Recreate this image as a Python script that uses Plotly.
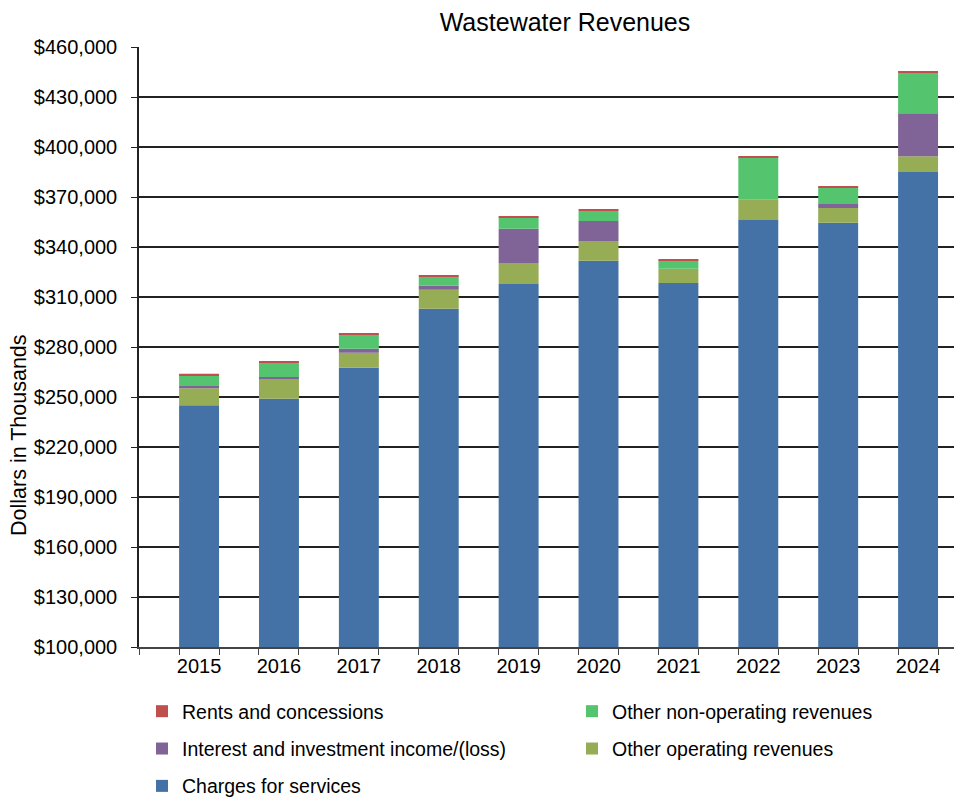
import plotly.graph_objects as go
import numpy as np

# data (dollars in thousands)
years = ["2015", "2016", "2017", "2018", "2019", "2020", "2021", "2022", "2023", "2024"]
charges_for_services = [245000, 249000, 267600, 303000, 317800, 331800, 318400, 356200, 354600, 385000]
other_operating = [10200, 11800, 9000, 11400, 12600, 11800, 8600, 12400, 8800, 9400]
interest_investment = [1400, 1200, 2400, 2400, 20600, 12000, 0, 0, 2400, 25800]
other_non_operating = [6400, 8600, 8600, 5400, 6800, 6000, 5000, 25200, 10000, 24400]
rents_concessions = [900, 700, 800, 800, 800, 700, 800, 800, 800, 800]

y_ticks = list(range(100000, 460001, 30000))
y_tick_text = ["${:,}".format(v) for v in y_ticks]

FONT = "Liberation Sans, Arial, sans-serif"
W, H = 962, 799
OFF = 8  # page body margin shifts the figure by 8px
L, T = 139 - OFF, 47 - OFF
B = H - (647 - OFF)
PW, PH = W - L, H - T - B

x = np.arange(len(years))

# name, values, colour, legend, rank in legend
series = [
    ("Charges for services", charges_for_services, "#4472A7", "legend", 3),
    ("Other operating revenues", other_operating, "#96AC55", "legend2", 2),
    ("Interest and investment income/(loss)", interest_investment, "#806498", "legend", 2),
    ("Other non-operating revenues", other_non_operating, "#55C46F", "legend2", 1),
    ("Rents and concessions", rents_concessions, "#C0504D", "legend", 1),
]

fig = go.Figure()
for name, vals, color, leg, rank in series:
    fig.add_trace(go.Bar(
        x=x,
        y=vals,
        name=name,
        width=0.5,
        marker=dict(color=color, line=dict(width=0)),
        legend=leg,
        legendgroup=name,
        legendrank=rank,
    ))

legend_top = (H - B - (692 - OFF)) / PH

fig.update_layout(
    width=W,
    height=H,
    barmode="relative",
    plot_bgcolor="white",
    paper_bgcolor="white",
    font=dict(family=FONT, size=20, color="black"),
    margin=dict(l=L, r=0, t=T, b=B, autoexpand=False),
    title=dict(
        text="Wastewater Revenues",
        font=dict(size=25, family=FONT, color="black"),
        x=(565 - OFF) / W, xref="container", xanchor="center",
        y=1 - 14 / H, yref="container", yanchor="middle",
    ),
    xaxis=dict(
        range=[-0.752, 9.65],
        tickvals=x,
        ticktext=years,
        tickangle=0,
        ticks="",
        showgrid=False,
        zeroline=False,
        showline=True,
        linecolor="#444",
        linewidth=1.5,
        automargin=False,
        tickfont=dict(size=20),
        minor=dict(ticks="outside", tick0=-0.25, dtick=0.5, ticklen=6,
                   tickcolor="#444", showgrid=False),
    ),
    yaxis=dict(
        range=[100000, 460000],
        tickmode="array",
        tickvals=y_ticks,
        ticktext=y_tick_text,
        ticks="outside",
        ticklen=6,
        tickcolor="#222",
        ticklabelstandoff=10,
        showgrid=True,
        gridcolor="#222",
        gridwidth=1.5,
        zeroline=False,
        showline=True,
        linecolor="#222",
        linewidth=1.5,
        automargin=False,
        tickfont=dict(size=20),
    ),
    legend=dict(
        orientation="v",
        traceorder="grouped",
        tracegroupgap=9,
        x=(142 - OFF - L) / PW, xanchor="left",
        y=legend_top, yanchor="top",
        font=dict(size=19.5),
        bgcolor="rgba(0,0,0,0)",
    ),
    legend2=dict(
        orientation="v",
        traceorder="grouped",
        tracegroupgap=9,
        x=(572 - OFF - L) / PW, xanchor="left",
        y=legend_top, yanchor="top",
        font=dict(size=19.5),
        bgcolor="rgba(0,0,0,0)",
    ),
    showlegend=True,
)

# y-axis title sits below the plot centre in the original, so use an annotation
fig.add_annotation(
    text="Dollars in Thousands",
    textangle=-90,
    xref="paper", x=-(L - (19 - OFF)) / PW, xanchor="center",
    yref="paper", y=(H - B - (435 - OFF)) / PH, yanchor="middle",
    showarrow=False,
    font=dict(size=21.5, family=FONT),
)

fig.write_html("out.html")
